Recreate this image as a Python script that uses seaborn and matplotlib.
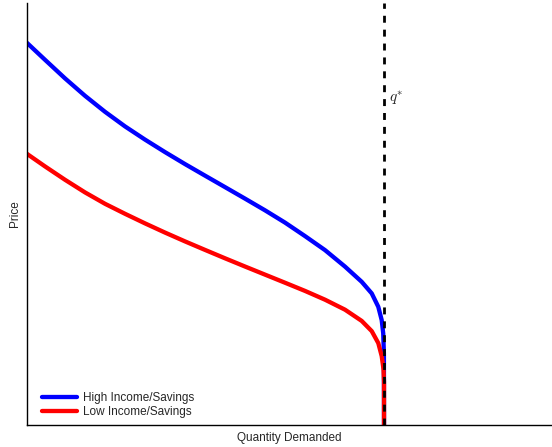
import numpy as np
import pandas as pd
import matplotlib
matplotlib.use("Agg")
import matplotlib.pyplot as plt
import seaborn as sns

# -----------------------
# Data (x: quantity, y: price, arbitrary units)
# -----------------------
q_star = 6.80

high_q = [0, 0.343, 0.724, 1.105, 1.486, 1.867, 2.248, 2.629, 3.010, 3.390,
          3.771, 4.152, 4.533, 4.914, 5.295, 5.676, 6.057, 6.375, 6.566, 6.691,
          6.756, 6.785, 6.798, 6.80]
high_p = [9.057, 8.656, 8.216, 7.803, 7.424, 7.078, 6.765, 6.469, 6.185, 5.912,
          5.640, 5.367, 5.090, 4.799, 4.479, 4.147, 3.756, 3.396, 3.121, 2.803,
          2.488, 2.173, 1.699, 0]

low_q = [0, 0.343, 0.724, 1.105, 1.486, 1.867, 2.248, 2.629, 3.010, 3.390,
         3.771, 4.152, 4.533, 4.914, 5.295, 5.676, 6.057, 6.375, 6.566, 6.691,
         6.756, 6.790, 6.80, 6.80]
low_p = [6.427, 6.130, 5.813, 5.514, 5.244, 5.007, 4.780, 4.562, 4.353, 4.152,
         3.953, 3.758, 3.566, 3.374, 3.180, 2.972, 2.735, 2.469, 2.227, 1.943,
         1.635, 1.327, 1.026, 0]

groups = ["High Income/Savings", "Low Income/Savings"]

df = pd.DataFrame({
    "q": high_q + low_q,
    "p": high_p + low_p,
    "group": [groups[0]] * len(high_q) + [groups[1]] * len(low_q),
})

# -----------------------
# Plot
# -----------------------
sns.set_style("white")
plt.rcParams["font.family"] = ["Liberation Sans", "DejaVu Sans"]
plt.rcParams["mathtext.fontset"] = "cm"

fig = plt.figure(figsize=(5.52, 4.47), dpi=100)
ax = fig.add_axes([0.049, 0.049, 0.951, 0.944])

sns.lineplot(data=df, x="q", y="p", hue="group", hue_order=groups,
             palette=["#0000ff", "#ff0000"], sort=False, estimator=None,
             linewidth=3.1, solid_joinstyle="round", ax=ax)

ax.axvline(q_star, color="black", linestyle=(0, (2.5, 2.5)), linewidth=2, zorder=3)
ax.text(q_star + 0.1, 7.75, r"$q^{*}$", fontsize=11, va="center")

ax.set_xlim(0, 10)
ax.set_ylim(0, 10)
ax.set_xticks([])
ax.set_yticks([])
ax.set_xlabel("Quantity Demanded", fontsize=8.5, labelpad=5)
ax.set_ylabel("Price", fontsize=8.5, labelpad=4)

for s in ["top", "right"]:
    ax.spines[s].set_visible(False)
for s in ["left", "bottom"]:
    ax.spines[s].set_color("black")
    ax.spines[s].set_linewidth(1)

ax.legend(loc="lower left", frameon=False, fontsize=8.5, handlelength=3.0,
          handletextpad=0.45, labelspacing=0.15, borderaxespad=0.2,
          bbox_to_anchor=(0.015, 0.0))

plt.savefig("out.png", dpi=100)
